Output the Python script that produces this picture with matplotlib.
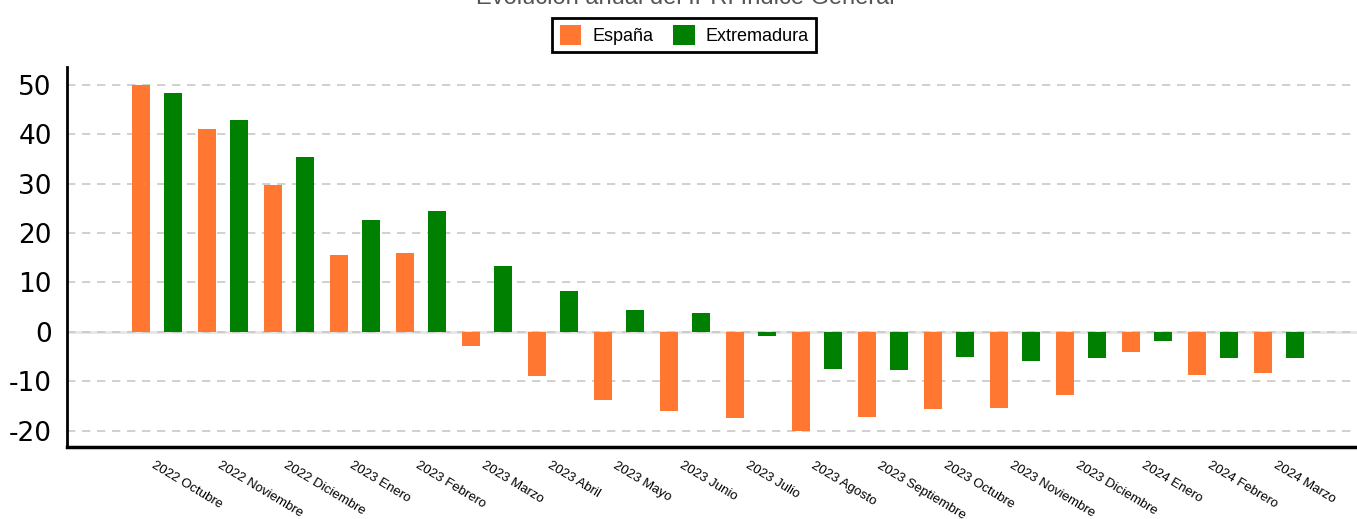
import numpy as np
import matplotlib
matplotlib.use("Agg")
import matplotlib.pyplot as plt

plt.rcParams['axes.unicode_minus'] = False

meses = ["2022 Octubre", "2022 Noviembre", "2022 Diciembre", "2023 Enero", "2023 Febrero",
         "2023 Marzo", "2023 Abril", "2023 Mayo", "2023 Junio", "2023 Julio", "2023 Agosto",
         "2023 Septiembre", "2023 Octubre", "2023 Noviembre", "2023 Diciembre", "2024 Enero",
         "2024 Febrero", "2024 Marzo"]
espana = [50.0, 41.1, 29.8, 15.6, 16.0, -2.9, -9.0, -13.8, -16.0, -17.4, -20.0,
          -17.2, -15.6, -15.4, -12.8, -4.0, -8.7, -8.3]
extremadura = [48.4, 42.9, 35.4, 22.7, 24.5, 13.4, 8.3, 4.5, 3.9, -0.9, -7.6,
               -7.7, -5.1, -5.9, -5.3, -1.8, -5.3, -5.3]

fig = plt.figure(figsize=(13.57, 5.19), dpi=100)
ax = fig.add_axes([67 / 1357, 1 - 447 / 519, 1 - 67 / 1357, 380 / 519])

x = np.arange(len(meses))
w = 0.27
ax.bar(x - 0.24, espana, w, color='#ff7730', label='España', zorder=3)
ax.bar(x + 0.24, extremadura, w, color='#008000', label='Extremadura', zorder=3)

ax.set_xlim(-1.36, 18.18)
ax.set_ylim(-23.3, 53.6)
ax.set_yticks(range(-20, 51, 10))
for v in range(-20, 51, 10):
    if v == 0:
        ax.axhline(0, color='#e6e6e6', lw=2, zorder=1)
    ax.axhline(v, color='#c8c8c8', lw=1.2, ls=(0, (5, 4)), zorder=2)

ax.tick_params(axis='y', length=0, labelsize=19, pad=11)
ax.tick_params(axis='x', length=0, pad=9)
ax.set_xticks(x - 0.02)
ax.set_xticklabels(meses, rotation=-31, ha='left', va='top', rotation_mode='anchor',
                   fontsize=9.5, family='Liberation Sans')
for s in ['top', 'right']:
    ax.spines[s].set_visible(False)
ax.spines['left'].set_linewidth(2)
ax.spines['bottom'].set_linewidth(2.5)

leg = fig.legend(loc='center', bbox_to_anchor=(684 / 1357, 1 - 35 / 519),
                 ncol=2, prop={'family': 'Liberation Sans', 'size': 13}, fancybox=False,
                 edgecolor='black', handlelength=1.2, handleheight=1.3, columnspacing=1.1,
                 handletextpad=0.6, borderpad=0.4, framealpha=1)
leg.get_frame().set_linewidth(2)

fig.text(0.505, 1.003, 'Evolución anual del IPRI Índice General', ha='center', va='center',
         fontsize=17, color='#555555', family='Liberation Sans')

plt.savefig("out.png", dpi=100)
